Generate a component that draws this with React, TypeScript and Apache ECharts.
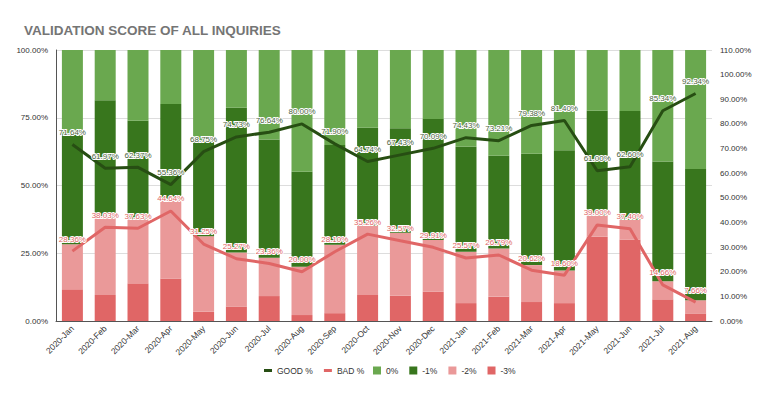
import React, { useEffect, useRef } from "react";
import * as echarts from "echarts";

const months = [
  "2020-Jan", "2020-Feb", "2020-Mar", "2020-Apr", "2020-May", "2020-Jun", "2020-Jul", "2020-Aug",
  "2020-Sep", "2020-Oct", "2020-Nov", "2020-Dec", "2021-Jan", "2021-Feb", "2021-Mar", "2021-Apr",
  "2021-May", "2021-Jun", "2021-Jul", "2021-Aug",
];
const goodPct = [71.64, 61.97, 62.37, 55.36, 68.75, 74.73, 76.64, 80.0, 71.9, 64.74, 67.43, 70.09, 74.43, 73.21, 79.38, 81.4, 61.0, 62.6, 85.34, 92.34];
const badPct = [28.36, 38.03, 37.63, 44.64, 31.25, 25.27, 23.36, 20.0, 28.1, 35.26, 32.57, 29.91, 25.57, 26.79, 20.62, 18.6, 39.0, 37.4, 14.66, 7.66];
const zero = [31.0, 18.5, 26.1, 19.9, 33.8, 21.3, 33.0, 44.9, 35.1, 28.7, 28.9, 25.5, 35.7, 39.0, 38.3, 37.0, 22.4, 22.5, 41.1, 43.9];
const minus1 = [40.64, 43.47, 36.27, 35.46, 34.95, 53.43, 43.64, 35.1, 36.8, 36.04, 38.53, 44.59, 38.73, 34.21, 41.08, 44.4, 38.6, 40.1, 44.24, 48.44];
const minus2 = [16.66, 28.43, 23.73, 28.94, 27.85, 19.97, 14.16, 17.8, 25.2, 25.66, 23.27, 19.11, 18.97, 17.79, 13.62, 12.0, 7.9, 7.3, 6.66, 4.86];
const minus3 = [11.7, 9.6, 13.9, 15.7, 3.4, 5.3, 9.2, 2.2, 2.9, 9.6, 9.3, 10.8, 6.6, 9.0, 7.0, 6.6, 31.1, 30.1, 8.0, 2.8];
const leftTicks = [0, 25, 50, 75, 100];
const rightMax = 110;

const FONT = "'Liberation Sans', Arial, sans-serif";

export default function App() {
  const ref = useRef<HTMLDivElement>(null);
  useEffect(() => {
    if (!ref.current) return;
    const chart = echarts.init(ref.current, null, { renderer: "svg" });
    const pctFmt = (v: number) => v.toFixed(2) + "%";
    const bar = (name: string, data: number[], color: string) => ({
      name,
      type: "bar",
      stack: "total",
      barWidth: 21,
      data,
      itemStyle: { color },
      yAxisIndex: 0,
    });
    const lineLabel = (color: string) => ({
      show: true,
      position: "top",
      distance: 8,
      formatter: (p: any) => pctFmt(p.value),
      fontSize: 8,
      color,
      textBorderColor: "#fff",
      textBorderWidth: 2,
      fontFamily: FONT,
    });
    const legendText = { fontSize: 8.5, color: "#333", fontFamily: FONT };
    chart.setOption({
      animation: false,
      textStyle: { fontFamily: FONT },
      title: {
        text: "VALIDATION SCORE OF ALL INQUIRIES",
        left: 19,
        top: 18,
        textStyle: { fontSize: 13.5, fontWeight: "bold", color: "#757575", fontFamily: FONT },
      },
      legend: [
        {
          left: 259,
          top: 361,
          itemWidth: 8,
          itemHeight: 3,
          itemGap: 11,
          textStyle: legendText,
          data: [
            { name: "GOOD %", icon: "rect", itemStyle: { color: "#274e13" } },
            { name: "BAD %", icon: "rect", itemStyle: { color: "#e06666" } },
          ],
        },
        {
          left: 368,
          top: 361,
          itemWidth: 8,
          itemHeight: 8,
          itemGap: 11,
          textStyle: legendText,
          data: [
            { name: "0%", icon: "rect" },
            { name: "-1%", icon: "rect" },
            { name: "-2%", icon: "rect" },
            { name: "-3%", icon: "rect" },
          ],
        },
      ],
      grid: { left: 56, right: 56, top: 50, bottom: 73 },
      xAxis: {
        type: "category",
        data: months,
        axisTick: { show: false },
        axisLine: { lineStyle: { color: "#555" } },
        axisLabel: { rotate: 45, fontSize: 8.5, color: "#333", interval: 0, margin: 6, fontFamily: FONT },
      },
      yAxis: [
        {
          type: "value",
          min: leftTicks[0],
          max: leftTicks[leftTicks.length - 1],
          interval: 25,
          axisLine: { show: true, lineStyle: { color: "#555" } },
          axisTick: { show: false },
          splitLine: { lineStyle: { color: "#ddd" } },
          axisLabel: { formatter: (v: number) => pctFmt(v), fontSize: 8, color: "#333", fontFamily: FONT },
        },
        {
          type: "value",
          min: 0,
          max: rightMax,
          interval: 10,
          axisLine: { show: false },
          axisTick: { show: false },
          splitLine: { show: false },
          axisLabel: { formatter: (v: number) => pctFmt(v), fontSize: 8, color: "#333", fontFamily: FONT },
        },
      ],
      series: [
        bar("-3%", minus3, "#e06666"),
        bar("-2%", minus2, "#ea9999"),
        bar("-1%", minus1, "#38761d"),
        bar("0%", zero, "#6aa84f"),
        {
          name: "GOOD %",
          type: "line",
          yAxisIndex: 1,
          data: goodPct,
          symbol: "circle",
          symbolSize: 0.1,
          lineStyle: { color: "#274e13", width: 3 },
          itemStyle: { color: "#274e13" },
          label: lineLabel("#4b6340"),
          z: 5,
        },
        {
          name: "BAD %",
          type: "line",
          yAxisIndex: 1,
          data: badPct,
          symbol: "circle",
          symbolSize: 0.1,
          lineStyle: { color: "#e06666", width: 3 },
          itemStyle: { color: "#e06666" },
          label: lineLabel("#e06666"),
          z: 5,
        },
      ],
    });
    return () => chart.dispose();
  }, []);
  return <div ref={ref} style={{ width: 768, height: 394, position: "absolute", left: 0, top: 0 }} />;
}
